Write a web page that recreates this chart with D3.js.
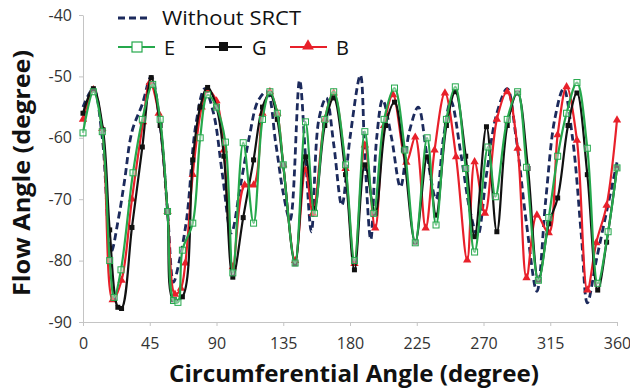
<!DOCTYPE html>
<html>
<head>
<meta charset="utf-8">
<script src="https://cdn.jsdelivr.net/npm/d3@7"></script>
<style>
  body { margin: 0; background: #fff; }
  svg { display: block; }
</style>
</head>
<body>
<div id="chart"></div>
<script>
/* tick labels */
var xTicks = [0, 45, 90, 135, 180, 225, 270, 315, 360];
var yTicks = [-40, -50, -60, -70, -80, -90];

/* Without SRCT (dashed) */
var angleNo = [0, 7, 13, 19, 24, 28, 33, 40, 46, 52, 57, 61, 65, 70, 76, 82, 88, 94, 100, 106, 112, 118, 124, 130, 135, 139.6, 146, 150, 154, 159, 164, 169, 174.5, 180, 187, 190, 194, 198, 202, 208, 214, 220, 226, 232, 238, 243, 248, 255, 261, 266, 272, 279, 286, 292, 299, 306, 312, 318, 324, 330, 336, 340, 346, 353, 360];
var flowNo = [-55, -52, -60, -78.5, -73, -67, -59, -54.5, -50, -58, -72, -83.5, -80, -73, -58, -52, -56, -66, -75.5, -68, -60, -54, -52.5, -61, -69, -73.4, -50.6, -63, -75.3, -57, -53.5, -61, -71, -60, -49.8, -63, -76.6, -60, -53.8, -60, -68, -59, -55, -63, -70, -60, -54, -63, -72, -76, -66, -56, -52, -60, -74, -85, -70, -57, -52, -60, -76, -86.9, -80, -72, -64];

/* E */
var angleE = [0, 7, 13, 18, 21, 25.6, 33.7, 40, 47, 52, 57, 61, 64, 67, 74, 79, 84, 90, 96, 101, 108, 115, 121, 126, 131, 135, 143, 150, 156, 163, 169, 177, 183, 190, 196, 203, 210, 217, 224, 232, 238, 245, 251, 258, 264, 273, 278, 286, 293, 299, 307, 314, 320, 326, 333, 340, 347, 354, 360];
var flowE = [-59.2, -52.5, -59, -80, -86, -81.5, -65.7, -57, -51.3, -57, -72, -86.5, -86.8, -78.3, -73.9, -60, -53, -55, -60.7, -82, -60.8, -73.9, -57, -52.5, -56, -64.4, -80.4, -57.4, -72.3, -57, -52.5, -64.4, -80, -59, -72.3, -57, -51.9, -62, -77.1, -60, -74.2, -57, -51.7, -65, -78.6, -61.5, -69.6, -57, -52.5, -64.8, -83.2, -73, -63, -56, -51, -61.7, -83.7, -75.3, -64.9];

/* G */
var angleG = [0, 7, 13.5, 18, 23.5, 26, 33, 40, 46, 52, 57, 61, 67, 74, 79, 84, 90, 95, 101, 108, 115, 121, 126, 131, 135, 143, 150, 156, 163, 169, 177, 183, 190, 197, 204, 210, 216, 224, 232, 238, 245, 251, 258, 264, 272, 279, 286, 293, 300, 307, 314, 320, 327, 333, 340, 347, 353, 360];
var flowG = [-56, -52, -58.7, -75, -87.6, -87.8, -74.6, -61.5, -50.2, -58, -72, -86.4, -85.9, -63.6, -55, -51.8, -55, -63, -82.7, -73, -63.6, -55, -52.8, -57, -64.4, -80.5, -63.1, -71.5, -58, -53.5, -66, -81.5, -64.4, -72.3, -58, -54.2, -62, -77, -63.1, -72.6, -58, -52.5, -63, -76.1, -58.2, -75.3, -58, -52.7, -65, -83.2, -74, -69.8, -58, -52.7, -66, -84.8, -77, -64.9];

/* B */
var angleB = [0, 7, 13, 20, 26, 33, 40.5, 45, 51, 57, 62, 66, 69, 74, 80, 84, 90, 95, 101, 109, 115, 121, 126, 131, 135, 143, 150, 155, 163, 169, 177, 183, 190, 197, 203, 209, 218, 224, 231, 237, 244, 251.5, 259, 264, 271, 279, 286, 293, 299, 306, 314, 320, 326, 333, 340, 346, 353, 360];
var flowB = [-57, -52.2, -58.5, -86.4, -83.2, -70, -57.4, -51, -56, -72, -85.5, -84.5, -80.4, -66, -55, -52.2, -54, -62, -81, -67.7, -67.7, -56, -52.5, -56, -64.4, -80, -65.2, -72.3, -57, -52.7, -65, -80.5, -61.2, -74.7, -58, -53, -64, -59.9, -74.7, -62, -52.7, -63.1, -79.9, -63.9, -72.3, -57, -52.5, -61.7, -82.8, -72.6, -75.5, -59.5, -51.7, -60.4, -84.8, -77.1, -71, -57.1];

var width = 630;
var height = 389;

var colNo = "#1c2a5c";
var colE = "#25a84c";
var colG = "#111111";
var colB = "#e8202a";

var svg = d3.select("#chart")
            .append("svg")
            .attr("width", width)
            .attr("height", height);

var x = d3.scaleLinear().domain([0, 360]).range([83, 617]);
var y = d3.scaleLinear().domain([-90, -40]).range([322, 15]);

// axes (plain hyphen for negatives, like the original)
var fmt = function(d) { return String(d); };
var xAxis = svg.append("g")
    .attr("transform", "translate(0," + y(-90) + ")")
    .call(d3.axisBottom(x).tickValues(xTicks).tickFormat(fmt).tickSize(4).tickPadding(12).tickSizeOuter(0));
var yAxis = svg.append("g")
    .attr("transform", "translate(" + x(0) + ",0)")
    .call(d3.axisLeft(y).tickValues(yTicks).tickFormat(fmt).tickSize(4).tickPadding(7).tickSizeOuter(0));

[xAxis, yAxis].forEach(function(a) {
  a.select(".domain").attr("stroke", "#c4c4c4");
  a.selectAll(".tick line").attr("stroke", "#c4c4c4");
  a.selectAll("text")
   .attr("fill", "#333")
   .style("font-family", "'Open Sans', sans-serif")
   .style("font-size", "16px");
});

// series lines
function pts(ax, vals) {
  return ax.map(function(a, i) { return [a, vals[i]]; });
}
var line = d3.line()
    .x(function(d) { return x(d[0]); })
    .y(function(d) { return y(d[1]); })
    .curve(d3.curveCatmullRom.alpha(0.5));

var dataNo = pts(angleNo, flowNo);
var dataE = pts(angleE, flowE);
var dataG = pts(angleG, flowG);
var dataB = pts(angleB, flowB);

svg.append("path").datum(dataNo)
   .attr("d", line).attr("fill", "none")
   .attr("stroke", colNo).attr("stroke-width", 2.8)
   .attr("stroke-dasharray", "7,4");

var tri = d3.symbol().type(d3.symbolTriangle).size(30);

function drawB(g) {
  g.append("path").datum(dataB)
   .attr("d", line).attr("fill", "none")
   .attr("stroke", colB).attr("stroke-width", 2.2);
  g.selectAll("path.mk").data(dataB).enter().append("path")
   .attr("class", "mk")
   .attr("d", tri)
   .attr("transform", function(d) { return "translate(" + x(d[0]) + "," + y(d[1]) + ")"; })
   .attr("fill", colB);
}
function drawG(g) {
  g.append("path").datum(dataG)
   .attr("d", line).attr("fill", "none")
   .attr("stroke", colG).attr("stroke-width", 2.2);
  g.selectAll("rect").data(dataG).enter().append("rect")
   .attr("x", function(d) { return x(d[0]) - 2.5; })
   .attr("y", function(d) { return y(d[1]) - 2.5; })
   .attr("width", 5).attr("height", 5)
   .attr("fill", colG);
}
function drawE(g) {
  g.append("path").datum(dataE)
   .attr("d", line).attr("fill", "none")
   .attr("stroke", colE).attr("stroke-width", 2.2);
  g.selectAll("rect").data(dataE).enter().append("rect")
   .attr("x", function(d) { return x(d[0]) - 3; })
   .attr("y", function(d) { return y(d[1]) - 3; })
   .attr("width", 6).attr("height", 6)
   .attr("fill", "#fff").attr("fill-opacity", 0.4)
   .attr("stroke", colE).attr("stroke-width", 1);
}
drawB(svg.append("g"));
drawG(svg.append("g"));
drawE(svg.append("g"));

// legend
var lg = svg.append("g").style("font-family", "'Open Sans', sans-serif").style("font-size", "20px").attr("fill", "#111");
lg.append("line").attr("x1", 118).attr("x2", 151).attr("y1", 18).attr("y2", 18)
  .attr("stroke", colNo).attr("stroke-width", 2.8).attr("stroke-dasharray", "7,4");
lg.append("text").attr("x", 162).attr("y", 25)
  .attr("textLength", 139).attr("lengthAdjust", "spacingAndGlyphs")
  .text("Without SRCT");

lg.append("line").attr("x1", 118).attr("x2", 155).attr("y1", 47).attr("y2", 47)
  .attr("stroke", colE).attr("stroke-width", 2.2);
lg.append("rect").attr("x", 132).attr("y", 42).attr("width", 10).attr("height", 10)
  .attr("fill", "#fff").attr("stroke", colE).attr("stroke-width", 1.2);
lg.append("text").attr("x", 164).attr("y", 55).text("E");

lg.append("line").attr("x1", 205).attr("x2", 242).attr("y1", 47).attr("y2", 47)
  .attr("stroke", colG).attr("stroke-width", 2.2);
lg.append("rect").attr("x", 219).attr("y", 42).attr("width", 9).attr("height", 9)
  .attr("fill", colG);
lg.append("text").attr("x", 252).attr("y", 55).text("G");

lg.append("line").attr("x1", 290).attr("x2", 327).attr("y1", 47).attr("y2", 47)
  .attr("stroke", colB).attr("stroke-width", 2.2);
lg.append("path").attr("d", d3.symbol().type(d3.symbolTriangle).size(60))
  .attr("transform", "translate(308,46)").attr("fill", colB);
lg.append("text").attr("x", 336).attr("y", 55).text("B");

// axis titles
svg.append("text")
   .attr("x", 354).attr("y", 382)
   .attr("text-anchor", "middle")
   .attr("textLength", 370).attr("lengthAdjust", "spacingAndGlyphs")
   .style("font-family", "'Open Sans', sans-serif")
   .style("font-weight", "bold").style("font-size", "24px")
   .attr("fill", "#111")
   .text("Circumferential Angle (degree)");

svg.append("text")
   .attr("transform", "translate(30,173) rotate(-90)")
   .attr("text-anchor", "middle")
   .attr("textLength", 246).attr("lengthAdjust", "spacingAndGlyphs")
   .style("font-family", "'Open Sans', sans-serif")
   .style("font-weight", "bold").style("font-size", "24px")
   .attr("fill", "#111")
   .text("Flow Angle (degree)");
</script>
</body>
</html>
